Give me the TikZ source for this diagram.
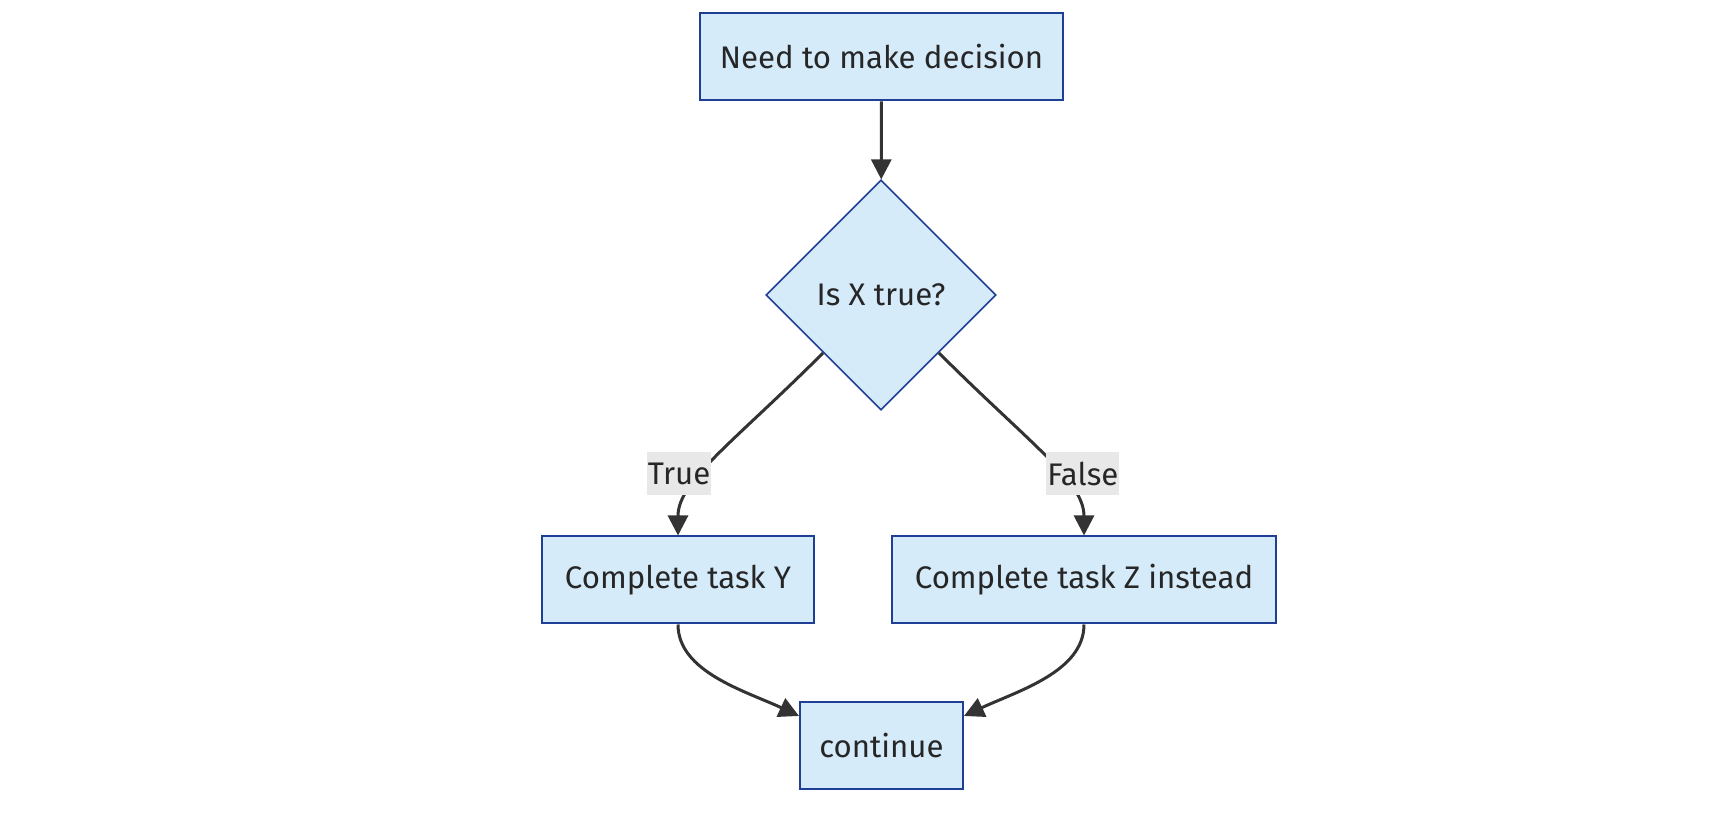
\documentclass[tikz,border=0pt]{standalone}
\usepackage{fontspec}
\setmainfont{Fira Sans}
\usetikzlibrary{shapes.geometric,arrows.meta}
\definecolor{boxfill}{HTML}{D5EBFA}
\definecolor{boxline}{HTML}{1F3F96}
\definecolor{lblfill}{HTML}{E8E8E8}
\definecolor{edgecol}{HTML}{333333}
\begin{document}
\begin{tikzpicture}[x=0.5pt,y=-0.5pt,
        box/.style={draw=boxline,fill=boxfill,line width=1pt,minimum height=43.5pt,inner xsep=2pt,font=\fontsize{15.6}{18}\selectfont,text=black!85},
        decbox/.style={diamond,draw=boxline,fill=boxfill,line width=0.8pt,minimum size=115pt,inner sep=0pt,font=\fontsize{15.6}{18}\selectfont,text=black!85},
        lbl/.style={fill=lblfill,inner xsep=0.5pt,inner ysep=0pt,minimum height=21.5pt,font=\fontsize{15.6}{18}\selectfont,text=black!85},
        edge/.style={draw=edgecol,line width=1.5pt,-{Triangle[length=10pt,width=10pt]}}]
        \useasboundingbox (0,0) rectangle (1736,822);

        \node[box,minimum width=181.5pt] (need) at (881.5,57) {Need to make decision};
        \node[decbox] (isx) at (881,295) {Is X true?};
        \node[box,minimum width=136pt] (tasky) at (678,580) {Complete task Y};
        \node[box,minimum width=192pt] (taskz) at (1084,580) {Complete task Z instead};
        \node[box,minimum width=81.5pt] (cont) at (881.5,746) {continue};

        \draw[edge] (need) -- (isx);
        \draw[edge] (isx.south west) to[out=-135,in=90,out looseness=1.4,in looseness=0.6] node[lbl,pos=0.6,xshift=-12pt] (yes) {True} (tasky.north);
        \draw[edge] (isx.south east) to[out=-45,in=90,out looseness=1.4,in looseness=0.6] node[lbl,pos=0.6,xshift=12pt] (no) {False} (taskz.north);
        \draw[edge] (tasky.south) to[out=-90,in=155,out looseness=0.8] (cont.160);
        \draw[edge] (taskz.south) to[out=-90,in=25,out looseness=0.8] (cont.20);
    \end{tikzpicture}
\end{document}
